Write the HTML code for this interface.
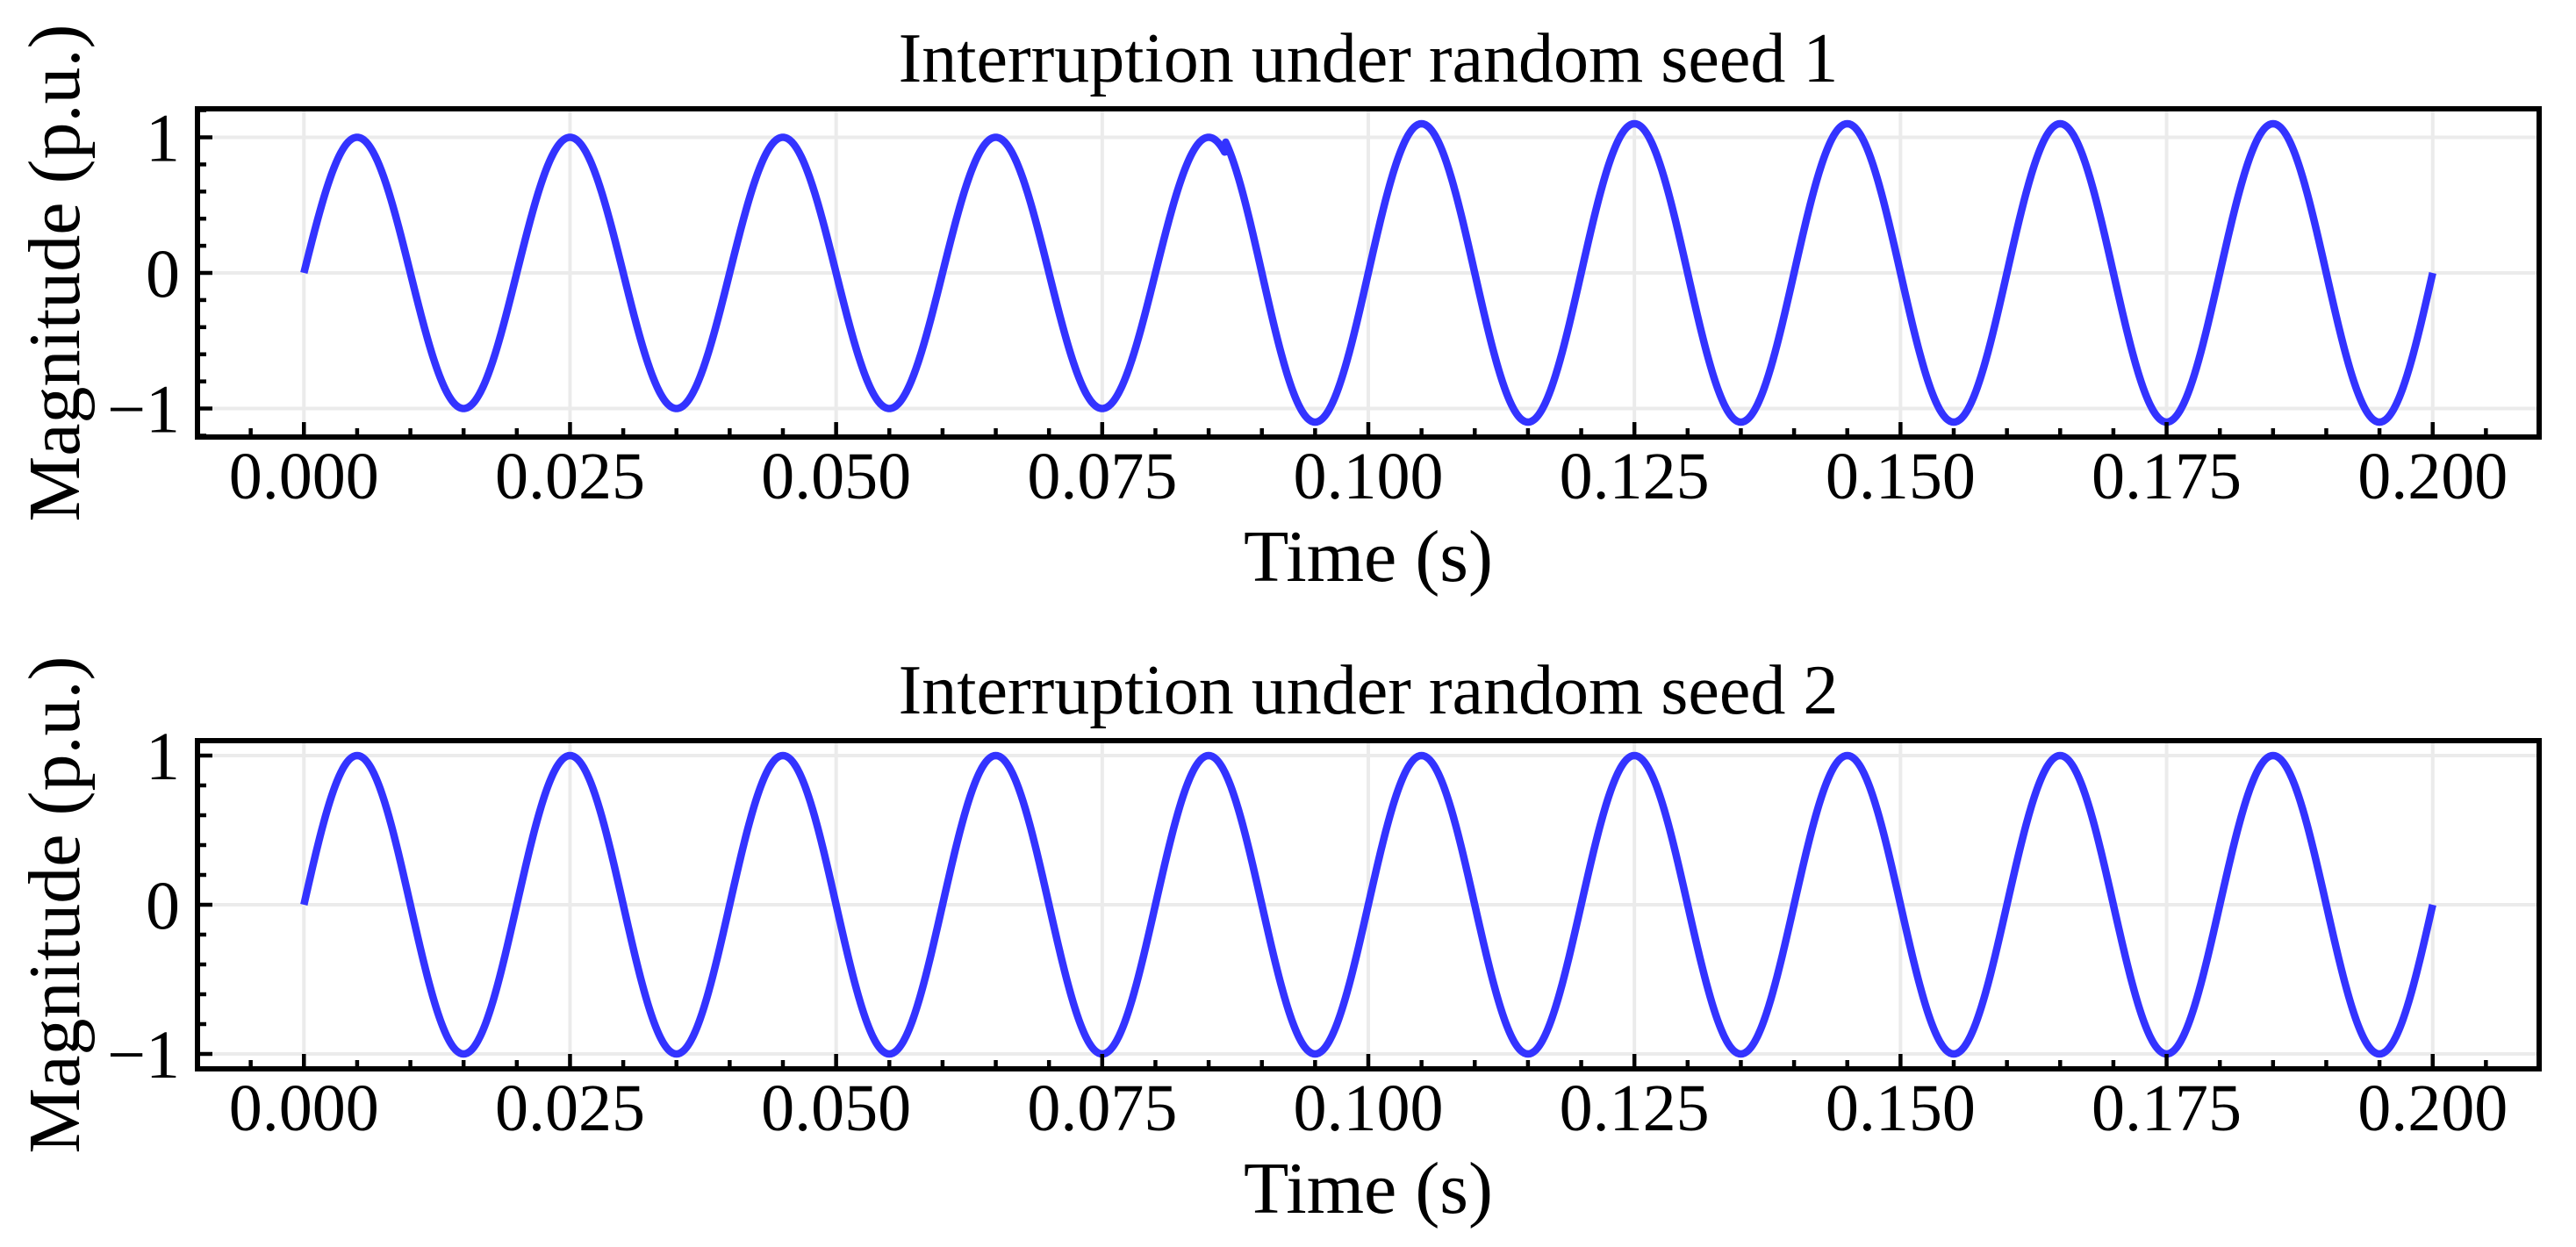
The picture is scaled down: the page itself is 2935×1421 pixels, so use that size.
<!DOCTYPE html>
<html><head><meta charset="utf-8"><style>
html,body{margin:0;padding:0;background:#fff}
svg{display:block}
text{font-family:"Liberation Serif",serif;fill:#000}
</style></head><body>
<svg id="fig" width="2935" height="1421" viewBox="0 0 2935 1421" xmlns="http://www.w3.org/2000/svg"></svg>
<script>
// ---- data ----
const xTicks = [0, 0.025, 0.05, 0.075, 0.1, 0.125, 0.15, 0.175, 0.2];
const xTickLabels = ["0.000","0.025","0.050","0.075","0.100","0.125","0.150","0.175","0.200"];
const yTicks = [-1, 0, 1];
const yTickLabels = ["\u22121","0","1"];
const freqHz = [50, 50];
const titles = ["Interruption under random seed 1", "Interruption under random seed 2"];
// seed 1: amplitude segments (start time, amplitude)
const seg1Start = [0, 0.0866];
const seg1Amp = [1.0, 1.1];
// seed 2
const seg2Start = [0];
const seg2Amp = [1.0];
const tEnd = [0.2, 0.2];
const yLims = [[-1.21, 1.21], [-1.1, 1.1]];

const NS = "http://www.w3.org/2000/svg";
const svg = document.getElementById('fig');
function mk(tag, attrs, parent){const e=document.createElementNS(NS,tag);for(const k in attrs)e.setAttribute(k,attrs[k]);(parent||svg).appendChild(e);return e;}

const L = 225, R = 2893;
const panels = [{top:124, bot:498, starts:seg1Start, amps:seg1Amp},
                {top:844, bot:1218, starts:seg2Start, amps:seg2Amp}];
const xMin=-0.01, xMax=0.21;

panels.forEach((p, i) => {
  const g = mk('g', {});
  
  
  const [y0, y1] = yLims[i];
  const X = t => L + (t - xMin) / (xMax - xMin) * (R - L);
  const Y = v => p.bot - (v - y0) / (y1 - y0) * (p.bot - p.top);
  xTicks.forEach(t => { const l = mk('line', {x1:X(t), x2:X(t), y1:p.top, y2:p.bot, stroke:'#ebebeb', 'stroke-width':4}, g);
      });
  yTicks.forEach(v => { const l = mk('line', {x1:L, x2:R, y1:Y(v), y2:Y(v), stroke:'#ebebeb', 'stroke-width':4}, g);
      });
  const f = freqHz[i];
  let d = '';
  const N = 2000;
  for (let k = 0; k <= N; k++) {
    const t = tEnd[i] * k / N;
    let a = p.amps[0];
    for (let s = 0; s < p.starts.length; s++) if (t >= p.starts[s]) a = p.amps[s];
    const v = a * Math.sin(2 * Math.PI * f * t);
    d += (k ? 'L' : 'M') + X(t).toFixed(2) + ' ' + Y(v).toFixed(2);
  }
  const path = mk('path', {d:d, fill:'none', stroke:'#3333ff', 'stroke-width':8.5, 'stroke-linejoin':'round'}, g);
  
  
  for (let m = -2; m <= 42; m++) {
    const t = m * 0.005;
    if (t < xMin - 1e-9 || t > xMax + 1e-9) continue;
    const major = m % 5 === 0 && m >= 0 && m <= 40;
    mk('line', {x1:X(t), x2:X(t), y1:p.bot, y2:p.bot - (major ? 17 : 10), stroke:'#000', 'stroke-width':4.5}, g);
  }
  for (let m = -6; m <= 6; m++) {
    const v = m * 0.2;
    if (v < y0 || v > y1) continue;
    const major = m % 5 === 0;
    mk('line', {x1:L, x2:L + (major ? 17 : 10), y1:Y(v), y2:Y(v), stroke:'#000', 'stroke-width':4.5}, g);
  }
  const fr = mk('rect', {x:L, y:p.top, width:R-L, height:p.bot-p.top, fill:'none', stroke:'#000', 'stroke-width':6}, g);
   
  xTicks.forEach((t, k) => { const tx = mk('text', {x:X(t), y:p.bot + 70, 'font-size':76, 'text-anchor':'middle'}, g);
    tx.textContent = xTickLabels[k];
      });
  yTicks.forEach((v, k) => { const tx = mk('text', {x:205, y:Y(v) + 27, 'font-size':78, 'text-anchor':'end'}, g);
    tx.textContent = yTickLabels[k];
      });
  const xl = mk('text', {x:(L+R)/2, y:p.bot + 164, 'font-size':84, 'text-anchor':'middle'}, g);
  xl.textContent = 'Time (s)';
   
  const cy = (p.top + p.bot) / 2;
  const yl = mk('text', {x:0, y:0, 'font-size':84, 'text-anchor':'middle', transform:`translate(90 ${cy}) rotate(-90)`}, g);
  yl.textContent = 'Magnitude (p.u.)';
   
  const ti = mk('text', {x:(L+R)/2, y:p.top - 31, 'font-size':80, 'text-anchor':'middle'}, g);
  ti.textContent = titles[i];
   
});
</script>
</body></html>
